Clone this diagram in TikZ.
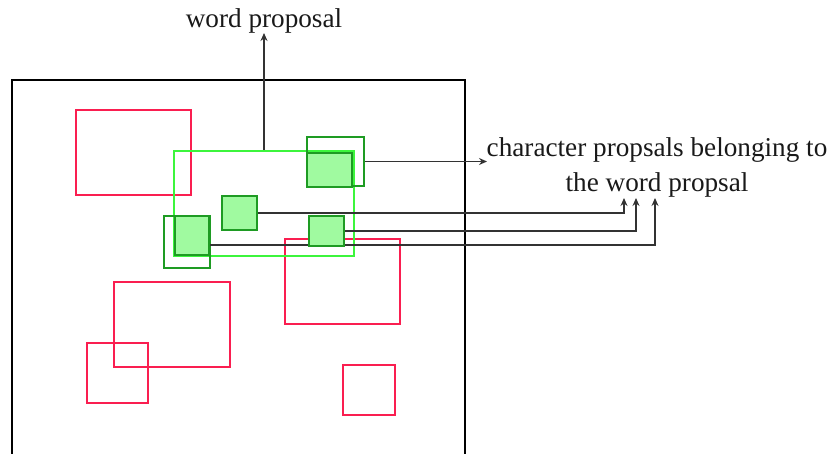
\documentclass[tikz,border=0pt]{standalone}
\usepackage{fontspec}
\setmainfont{Liberation Serif}
\usetikzlibrary{fit,arrows.meta}
\definecolor{regred}{RGB}{250,30,80}
\definecolor{wordgreen}{RGB}{60,245,60}
\definecolor{chargreen}{RGB}{30,155,35}
\definecolor{charfill}{RGB}{160,250,160}
\tikzset{
  region/.style={draw=regred, line width=2pt, inner sep=0pt},
  wordbox/.style={draw=wordgreen, line width=2pt, inner sep=0pt},
  charframe/.style={draw=chargreen, line width=2pt, inner sep=0pt},
  charbox/.style={draw=chargreen, fill=charfill, line width=2.2pt, inner sep=0pt},
  link/.style={draw=black!80, line width=1.2pt, -{Stealth[length=8pt,width=7pt]}},
  caption/.style={font=\fontsize{27.2}{35}\selectfont, text=black!90, inner sep=0pt}
}
\begin{document}
\begin{tikzpicture}[x=1pt,y=-1pt]
\useasboundingbox (0,0) rectangle (829,454);

% image frame (runs off the bottom edge)
\draw[line width=2pt] (12,470) -- (12,80) -- (465,80) -- (465,470);

% candidate regions
\node[region, fit={(76,110)(191,195)}] (r1) {};
\node[region, fit={(114,282)(230,367)}] (r2) {};
\node[region, fit={(87,343)(148,403)}] (r3) {};
\node[region, fit={(285,239)(400,324)}] (r4) {};
\node[region, fit={(343,365)(395,415)}] (r5) {};

% word proposal
\node[wordbox, fit={(174,151)(354,256)}] (wp) {};

% labels
\node[caption, anchor=base] (wlabel) at (264,28) {word proposal};
\node[caption, anchor=base] (clabel1) at (657,157) {character propsals belonging to};
\node[caption, anchor=base] (clabel2) at (657,192) {the word propsal};

\coordinate (tipw) at (264,33);
\coordinate (tipa) at (487,162);
\coordinate (tip1) at (624,198);
\coordinate (tip2) at (636,198);
\coordinate (tip3) at (655,198);

% character proposals: unfilled frames
\node[charframe, fit={(307,137)(364,186)}] (ca) {};
\node[charframe, fit={(164,216)(210,268)}] (cc) {};

% connectors
\draw[link] (wp.north -| tipw) -- (tipw);
\draw[link] (ca.east) -- (ca.east -| tipa);
\coordinate (cstart) at (209,245);
\draw[link] (cstart) -| (tip3);

% filled character proposals
\node[charbox, fit={(307,153)(352,187)}] (fa) {};
\node[charbox, fit={(222,196)(257,230)}] (fb) {};
\node[charbox, fit={(175,216)(209,255)}] (fc) {};
\node[charbox, fit={(309,216)(344,246)}] (fd) {};

\draw[link] (fb.east) -| (tip1);
\draw[link] (fd.east) -| (tip2);
\end{tikzpicture}
\end{document}
